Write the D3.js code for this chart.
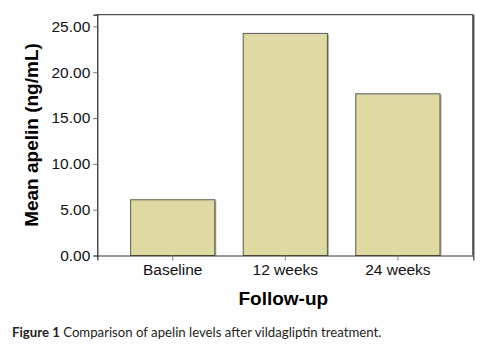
<!DOCTYPE html>
<html>
<head>
<meta charset="utf-8">
<script src="https://cdn.jsdelivr.net/npm/d3@7"></script>
<style>
  body { margin: 0; background: #fff; }
  svg { display: block; }
  .tick text { font-family: Arial, "Liberation Sans", sans-serif; }
</style>
</head>
<body>
<div id="chart"></div>
<script>
const categories = ['Baseline', '12 weeks', '24 weeks']
const meanApelin = [6.08, 24.23, 17.64]
const yTicks = [0, 5, 10, 15, 20, 25]

const WIDTH = 483
const HEIGHT = 351
const margin = { top: 14.7, right: 9.7, bottom: 95.5, left: 97.3 }
const innerW = WIDTH - margin.left - margin.right
const innerH = HEIGHT - margin.top - margin.bottom

const svg = d3.select('#chart')
  .append('svg')
  .attr('width', WIDTH)
  .attr('height', HEIGHT)

const g = svg.append('g')
  .attr('transform', `translate(${margin.left},${margin.top})`)

const x = d3.scaleBand()
  .domain(categories)
  .range([0, innerW])
  .paddingInner(0.252)
  .paddingOuter(0.296)

const y = d3.scaleLinear()
  .domain([0, 26.27])
  .range([innerH, 0])

// frame
g.append('line').attr('x1', 0).attr('x2', innerW).attr('y1', 0).attr('y2', 0)
  .attr('stroke', '#555').attr('stroke-width', 1.2)
g.append('line').attr('x1', innerW).attr('x2', innerW).attr('y1', 0).attr('y2', innerH)
  .attr('stroke', '#555').attr('stroke-width', 2.4)

// bar shadows + bars
const data = categories.map((c, i) => ({ cat: c, value: meanApelin[i] }))
g.selectAll('.shadow')
  .data(data)
  .enter()
  .append('rect')
  .attr('class', 'shadow')
  .attr('x', d => x(d.cat) + 1.5)
  .attr('y', d => y(d.value) + 1)
  .attr('width', x.bandwidth())
  .attr('height', d => innerH - y(d.value) - 1)
  .attr('fill', '#a8a8a0')
g.selectAll('.bar')
  .data(data)
  .enter()
  .append('rect')
  .attr('class', 'bar')
  .attr('x', d => x(d.cat))
  .attr('y', d => y(d.value))
  .attr('width', x.bandwidth())
  .attr('height', d => innerH - y(d.value))
  .attr('fill', '#dfdaa1')
  .attr('stroke', '#5a5a4a')
  .attr('stroke-width', 1)

// axes
const yAxis = g.append('g')
  .call(d3.axisLeft(y).tickValues(yTicks).tickFormat(d3.format('.2f')).tickSize(4).tickPadding(3))
yAxis.select('.domain').attr('stroke', '#222').attr('stroke-width', 1.2)
yAxis.selectAll('.tick line').attr('stroke', '#777')
yAxis.selectAll('.tick text').attr('font-size', 15.5).attr('fill', '#111')

const xAxis = g.append('g')
  .attr('transform', `translate(0,${innerH})`)
  .call(d3.axisBottom(x).tickSize(5).tickPadding(3))
xAxis.select('.domain').attr('stroke', '#333').attr('stroke-width', 1.2)
xAxis.selectAll('.tick line').attr('stroke', '#888')
xAxis.selectAll('.tick text').attr('font-size', 15.5).attr('fill', '#111')

// axis titles
svg.append('text')
  .attr('x', margin.left + innerW / 2 - 2)
  .attr('y', 305)
  .attr('text-anchor', 'middle')
  .attr('font-family', 'Arial, "Liberation Sans", sans-serif')
  .attr('font-weight', 'bold')
  .attr('font-size', 19)
  .attr('fill', '#000')
  .text('Follow-up')

svg.append('text')
  .attr('transform', 'translate(38,135) rotate(-90)')
  .attr('text-anchor', 'middle')
  .attr('font-family', 'Arial, "Liberation Sans", sans-serif')
  .attr('font-weight', 'bold')
  .attr('font-size', 19)
  .attr('fill', '#000')
  .text('Mean apelin (ng/mL)')

// caption
const cap = svg.append('text')
  .attr('x', 12)
  .attr('y', 337)
  .attr('font-family', 'Lato, "Open Sans", sans-serif')
  .attr('font-size', 13.2)
  .attr('fill', '#231f20')
cap.append('tspan').attr('font-weight', 'bold').text('Figure 1')
cap.append('tspan').text(' Comparison of apelin levels after vildagliptin treatment.')
</script>
</body>
</html>
